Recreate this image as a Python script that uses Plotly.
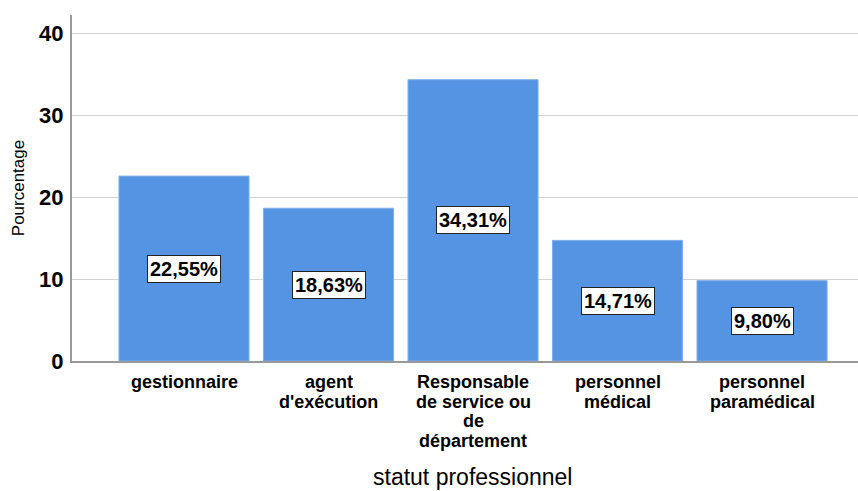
import plotly.graph_objects as go

categories = ["gestionnaire", "agent\nd'exécution", "Responsable\nde service ou\nde\ndépartement",
              "personnel\nmédical", "personnel\nparamédical"]
values = [22.55, 18.63, 34.31, 14.71, 9.80]
labels = ["22,55%", "18,63%", "34,31%", "14,71%", "9,80%"]
y_ticks = [0, 10, 20, 30, 40]

W, H = 858, 491
L, R, T, B = 72, 0, 15, 130
FONT = "Liberation Sans"

fig = go.Figure()
fig.add_trace(go.Bar(
    x=list(range(len(categories))), y=values,
    marker=dict(color="#5594E3", line=dict(color="#7FAEEA", width=1)),
    hoverinfo="skip",
))
for i, (v, lab) in enumerate(zip(values, labels)):
    fig.add_annotation(x=i, y=v / 2, text=lab, showarrow=False,
                       font=dict(family=FONT, size=20, color="black", weight="bold"),
                       bgcolor="white", bordercolor="#222222", borderwidth=1, borderpad=2)

# category labels, one annotation per line for tight line spacing
for i, cat in enumerate(categories):
    for k, line in enumerate(cat.split("\n")):
        fig.add_annotation(x=i, y=0, text=line, showarrow=False,
                           xanchor="center", yanchor="middle",
                           yshift=-21 - 19.5 * k, height=20, borderpad=0,
                           font=dict(family=FONT, size=18, color="black", weight="bold"))

fig.add_annotation(xref="paper", yref="paper", x=0.51, y=0, yshift=-116,
                   text="statut professionnel", showarrow=False,
                   font=dict(family=FONT, size=23, color="black"),
                   xanchor="center", yanchor="middle")

fig.update_layout(
    width=W, height=H,
    margin=dict(l=L, r=R, t=T, b=B, pad=0),
    plot_bgcolor="white", paper_bgcolor="white",
    bargap=0.1, showlegend=False,
    xaxis=dict(
        range=[-0.775, 4.664],
        showticklabels=False,
        showgrid=False, zeroline=False, showline=True, linecolor="#999999", linewidth=2,
        ticks="",
    ),
    yaxis=dict(
        range=[0, 42.2],
        tickmode="array", tickvals=y_ticks,
        tickfont=dict(family=FONT, size=22, color="black", weight="bold"),
        showgrid=True, gridcolor="#D3D3D3", gridwidth=1,
        zeroline=False, showline=True, linecolor="#999999", linewidth=2,
        ticks="outside", ticklen=2, tickcolor="white",
        title=dict(text="Pourcentage", font=dict(family=FONT, size=17, color="black"), standoff=10),
    ),
)

fig.write_html("out.html")
